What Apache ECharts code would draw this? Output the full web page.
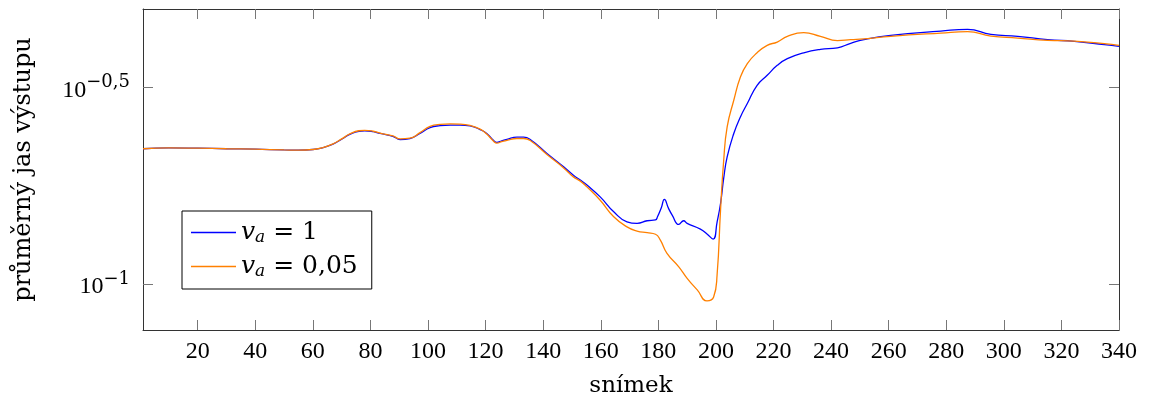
<!DOCTYPE html>
<html>
<head>
<meta charset="utf-8">
<script src="https://cdn.jsdelivr.net/npm/echarts@6/dist/echarts.min.js"></script>
<style>
  html, body { margin: 0; padding: 0; background: #fff; }
  #chart { width: 1150px; height: 403px; }
</style>
</head>
<body>
<div id="chart"></div>
<script>
// Mean output brightness per frame, for two values of v_a.
const brightnessVa1 = [
  [1, 0.2207], [10, 0.2218], [20, 0.2214], [30, 0.2207], [40, 0.2201], [50, 0.2192], [55, 0.2188], [60, 0.2197],
  [63.5, 0.2221], [67, 0.2267], [70, 0.2333], [73, 0.2403], [76, 0.2445], [78, 0.2452], [81, 0.2438], [83.3, 0.2413],
  [87.8, 0.2374], [90.3, 0.2329], [93.7, 0.2343], [97.2, 0.2413], [100.7, 0.2497], [104.2, 0.2526], [107.7, 0.2535], [111.1, 0.2535],
  [114.6, 0.2522], [118.1, 0.2469], [120.4, 0.2413], [122.7, 0.2319], [123.9, 0.2290], [125.6, 0.2312], [127.4, 0.2332], [130.9, 0.2361],
  [133.2, 0.2361], [135.5, 0.2329], [141.3, 0.2147],
  [147.1, 0.1985], [150.5, 0.1890], [152.9, 0.1837], [155.2, 0.1784], [159.8, 0.1665], [164.5, 0.1526], [169.1, 0.1439], [172.6, 0.1426],
  [176.1, 0.1448], [179, 0.1455], [179.7, 0.1482], [181, 0.1560], [182.1, 0.1641], [183.5, 0.1559], [184.8, 0.1497], [187.1, 0.1417],
  [188.8, 0.1448], [190, 0.1426], [194.6, 0.1379], [196.9, 0.1340], [199, 0.1301], [200.4, 0.1437], [201.6, 0.1602], [202.7, 0.1858],
  [203.9, 0.2104], [206.2, 0.2413], [208.5, 0.2658], [210.9, 0.2875], [214.3, 0.3200], [217.8, 0.3392], [221.3, 0.3596], [224.8, 0.3739],
  [230.5, 0.3870], [236.3, 0.3949], [242.2, 0.3984], [246.8, 0.4090], [251.4, 0.4179], [260.7, 0.4285], [278.1, 0.4394], [287.4, 0.4437],
  [295.5, 0.4310], [304.8, 0.4261], [315.2, 0.4179], [324.5, 0.4138], [334.9, 0.4060], [340, 0.4019]
];

const brightnessVa005 = [
  [1, 0.2207], [10, 0.2218], [20, 0.2214], [30, 0.2207], [40, 0.2201], [50, 0.2192], [55, 0.2188], [60, 0.2197],
  [63.5, 0.2221], [67, 0.2270], [70, 0.2338], [73, 0.2410], [76, 0.2452], [78, 0.2458], [81, 0.2445], [83.3, 0.2418],
  [87.8, 0.2378], [90.3, 0.2337], [93.7, 0.2347], [97.2, 0.2425], [100.7, 0.2515], [104.2, 0.2545], [107.7, 0.2552], [111.1, 0.2550],
  [114.6, 0.2530], [118.1, 0.2475], [120.4, 0.2405], [122.7, 0.2310], [123.9, 0.2280], [125.6, 0.2300], [127.4, 0.2319], [130.9, 0.2343],
  [133.2, 0.2343], [135.5, 0.2315], [141.3, 0.2134],
  [147.1, 0.1973], [150.5, 0.1872], [152.9, 0.1826], [155.2, 0.1766], [159.8, 0.1633], [164.5, 0.1482], [169.1, 0.1397], [172.6, 0.1363],
  [176.1, 0.1350], [179, 0.1338], [180.7, 0.1293], [183, 0.1197], [187.1, 0.1106], [190, 0.1034], [193.5, 0.0966], [196.9, 0.0906],
  [199.2, 0.0927], [200.4, 0.1054], [201.6, 0.1541], [202.7, 0.2064], [203.9, 0.2507], [206.2, 0.2931], [208.5, 0.3358], [210.9, 0.3633],
  [214.3, 0.3870], [217.8, 0.4043], [221.3, 0.4121], [224.8, 0.4261], [230.5, 0.4354], [236.3, 0.4261], [242.2, 0.4157], [246.8, 0.4179],
  [251.4, 0.4198], [260.7, 0.4261], [278.1, 0.4343], [287.4, 0.4378], [295.5, 0.4268], [304.8, 0.4218], [315.2, 0.4162], [324.5, 0.4145],
  [334.9, 0.4083], [340, 0.4043]
];

const seriesNames = ['va1', 'va005'];
const legendValues = ['1', '0,05'];
const xTicks = [20, 40, 60, 80, 100, 120, 140, 160, 180, 200, 220, 240, 260, 280, 300, 320, 340];
const yTicks = [0.1, 0.316228];
const yTickExponents = ['\u22121', '\u22120,5'];

const NUM_FONT = '"Liberation Serif", serif';
const TEXT_FONT = '"DejaVu Serif", serif';
const FRAME = '#333';
const TICK = '#777';

const chart = echarts.init(document.getElementById('chart'), null, { renderer: 'canvas' });

function yLabel(v) {
  for (let i = 0; i < yTicks.length; i++) {
    if (Math.abs(Math.log10(v) - Math.log10(yTicks[i])) < 0.01) {
      return '{b|10}{s|' + yTickExponents[i] + '}';
    }
  }
  return '';
}

const frameAxisCommon = {
  axisLine: { show: true, lineStyle: { color: FRAME, width: 1 } },
  splitLine: { show: false },
  minorTick: { show: false },
  minorSplitLine: { show: false }
};

chart.setOption({
  animation: false,
  backgroundColor: '#fff',
  grid: { left: 143, right: 31, top: 9, bottom: 73, outerBoundsMode: 'none', containLabel: false },
  legend: {
    orient: 'vertical',
    left: 182,
    top: 211,
    padding: [9, 14, 9, 9],
    itemGap: 8,
    itemWidth: 45,
    itemHeight: 1.4,
    icon: 'rect',
    borderColor: '#000',
    borderWidth: 1,
    data: seriesNames,
    formatter: function (name) {
      return '{v|v}{a|a}{t| = ' + legendValues[seriesNames.indexOf(name)] + '}';
    },
    textStyle: {
      fontFamily: TEXT_FONT,
      color: '#000',
      rich: {
        v: { fontFamily: TEXT_FONT, fontStyle: 'italic', fontSize: 25, color: '#000' },
        a: { fontFamily: TEXT_FONT, fontStyle: 'italic', fontSize: 17, color: '#000', padding: [10, 0, 0, 0] },
        t: { fontFamily: TEXT_FONT, fontSize: 25, color: '#000' }
      }
    }
  },
  xAxis: [
    Object.assign({
      type: 'value', min: 1, max: 340, position: 'bottom',
      axisTick: { show: true, inside: true, length: 10, customValues: xTicks, lineStyle: { color: TICK, width: 1 } },
      axisLabel: { customValues: xTicks, fontFamily: NUM_FONT, fontSize: 24, color: '#000', margin: 10 },
      name: 'snímek', nameLocation: 'middle', nameGap: 45,
      nameTextStyle: { fontFamily: TEXT_FONT, fontSize: 23, color: '#000' }
    }, frameAxisCommon),
    Object.assign({
      type: 'value', min: 1, max: 340, position: 'top',
      axisTick: { show: true, inside: true, length: 10, customValues: xTicks, lineStyle: { color: TICK, width: 1 } },
      axisLabel: { show: false }
    }, frameAxisCommon)
  ],
  yAxis: [
    Object.assign({
      type: 'log', logBase: 10, min: 0.0764, max: 0.5, position: 'left',
      axisTick: { show: true, inside: true, length: 10, customValues: yTicks, lineStyle: { color: TICK, width: 1 } },
      axisLabel: {
        customValues: yTicks, margin: 13, formatter: yLabel,
        rich: {
          b: { fontFamily: NUM_FONT, fontSize: 24, color: '#000', padding: [6, 0, 0, 0] },
          s: { fontFamily: TEXT_FONT, fontSize: 18, color: '#000', padding: [0, 0, 10, 0] }
        }
      },
      name: 'průměrný jas výstupu', nameLocation: 'middle', nameGap: 107, nameRotate: 90,
      nameTextStyle: { fontFamily: TEXT_FONT, fontSize: 24, color: '#000' }
    }, frameAxisCommon),
    Object.assign({
      type: 'log', logBase: 10, min: 0.0764, max: 0.5, position: 'right',
      axisTick: { show: true, inside: true, length: 10, customValues: yTicks, lineStyle: { color: TICK, width: 1 } },
      axisLabel: { show: false }
    }, frameAxisCommon)
  ],
  series: [
    {
      name: seriesNames[0], type: 'line', data: brightnessVa1,
      xAxisIndex: 0, yAxisIndex: 0,
      symbol: 'none', showSymbol: false, smooth: 0.5,
      lineStyle: { color: '#0000ff', width: 1.3 }, itemStyle: { color: '#0000ff' }
    },
    {
      name: seriesNames[1], type: 'line', data: brightnessVa005,
      xAxisIndex: 0, yAxisIndex: 0,
      symbol: 'none', showSymbol: false, smooth: 0.5,
      lineStyle: { color: '#ff8000', width: 1.3 }, itemStyle: { color: '#ff8000' }
    }
  ]
});
</script>
</body>
</html>
